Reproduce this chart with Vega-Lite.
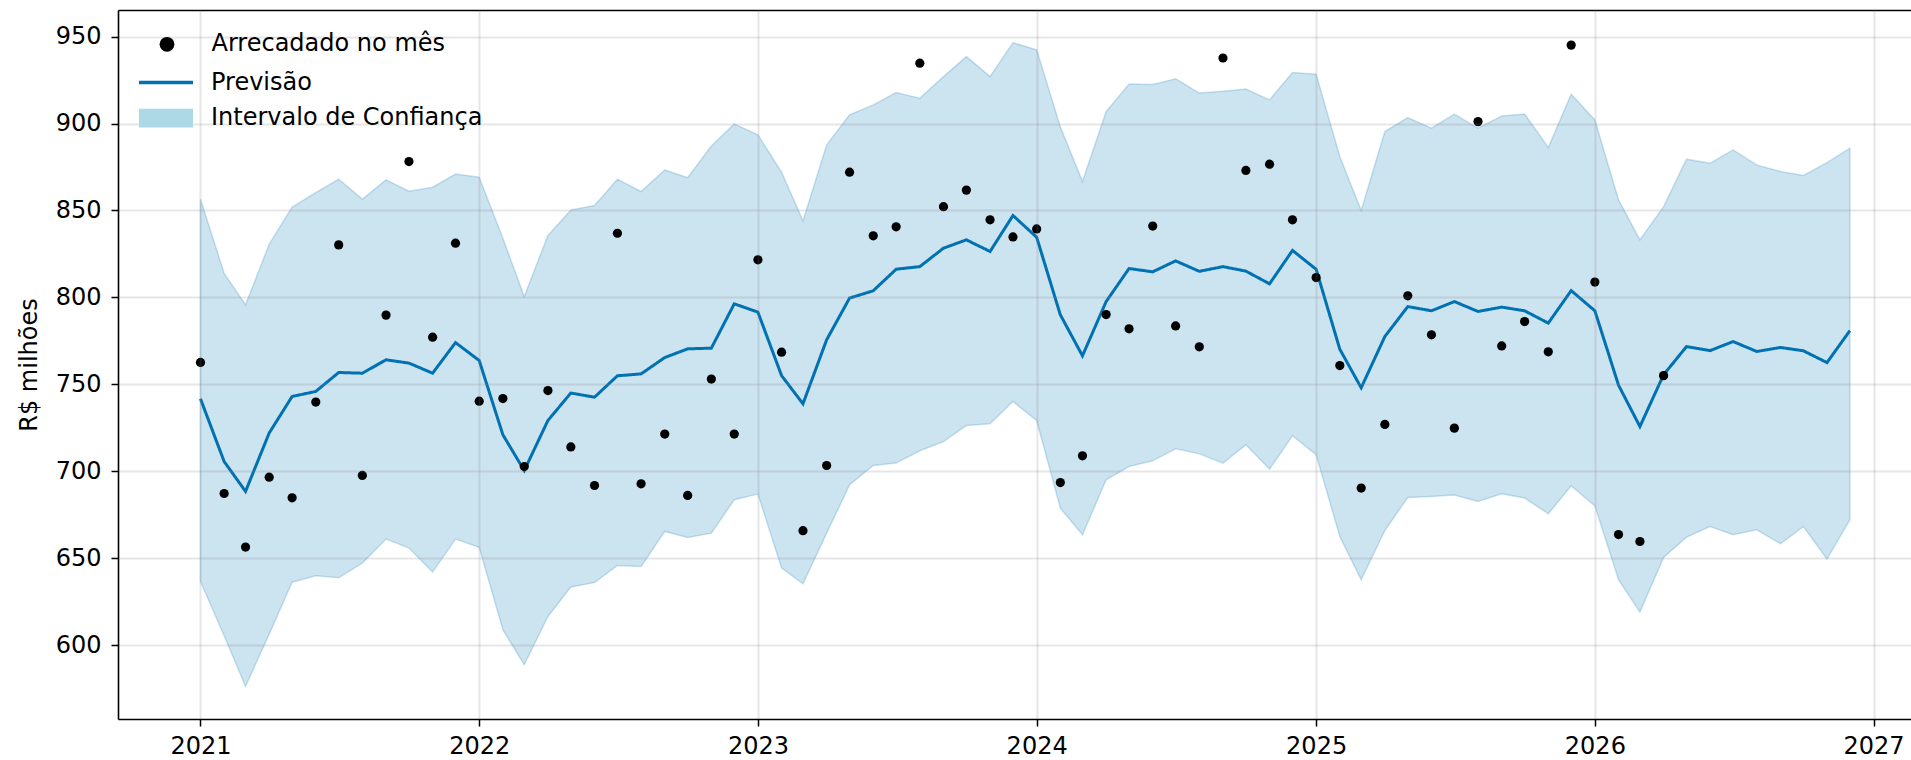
{
  "$schema": "https://vega.github.io/schema/vega-lite/v6.json",
  "autosize": "none",
  "width": 1793,
  "height": 709,
  "padding": {"left": 118, "top": 10, "right": 0, "bottom": 41},
  "background": "white",
  "config": {
    "view": {"stroke": null},
    "font": "DejaVu Sans",
    "axis": {
      "labelFont": "DejaVu Sans",
      "labelFontSize": 24,
      "labelColor": "#000000",
      "tickColor": "#000000",
      "tickWidth": 1.5,
      "tickSize": 7,
      "domainColor": "#000000",
      "domainWidth": 1.6,
      "gridColor": "#808080",
      "gridOpacity": 0.2,
      "gridWidth": 2,
      "titleFont": "DejaVu Sans",
      "titleFontSize": 24,
      "titleFontWeight": "normal",
      "titleColor": "#000000",
      "labelOverlap": false
    },
    "legend": {
      "labelFont": "DejaVu Sans",
      "labelFontSize": 24,
      "labelColor": "#000000",
      "labelLimit": 500,
      "padding": 0
    }
  },
  "data": {
    "values": [
      {"ds": "2021-01-01", "y": 762.6, "yhat": 741.7, "lo": 636.6, "hi": 856.5},
      {"ds": "2021-02-01", "y": 687.2, "yhat": 705.6, "lo": 605.4, "hi": 813.9},
      {"ds": "2021-03-01", "y": 656.4, "yhat": 688.4, "lo": 576.2, "hi": 795.7},
      {"ds": "2021-04-01", "y": 696.6, "yhat": 722.0, "lo": 606.3, "hi": 830.6},
      {"ds": "2021-05-01", "y": 684.7, "yhat": 743.0, "lo": 636.2, "hi": 851.9},
      {"ds": "2021-06-01", "y": 739.8, "yhat": 745.9, "lo": 639.9, "hi": 860.3},
      {"ds": "2021-07-01", "y": 830.2, "yhat": 756.8, "lo": 638.7, "hi": 868.0},
      {"ds": "2021-08-01", "y": 697.6, "yhat": 756.4, "lo": 647.2, "hi": 856.5},
      {"ds": "2021-09-01", "y": 789.8, "yhat": 764.1, "lo": 661.0, "hi": 867.6},
      {"ds": "2021-10-01", "y": 878.1, "yhat": 762.2, "lo": 655.8, "hi": 861.1},
      {"ds": "2021-11-01", "y": 777.1, "yhat": 756.4, "lo": 642.0, "hi": 863.4},
      {"ds": "2021-12-01", "y": 831.2, "yhat": 774.0, "lo": 661.0, "hi": 870.9},
      {"ds": "2022-01-01", "y": 740.3, "yhat": 763.7, "lo": 656.2, "hi": 869.1},
      {"ds": "2022-02-01", "y": 741.8, "yhat": 721.0, "lo": 608.8, "hi": 834.0},
      {"ds": "2022-03-01", "y": 702.7, "yhat": 700.4, "lo": 588.7, "hi": 800.5},
      {"ds": "2022-04-01", "y": 746.4, "yhat": 729.2, "lo": 616.5, "hi": 835.6},
      {"ds": "2022-05-01", "y": 714.0, "yhat": 745.0, "lo": 633.4, "hi": 850.3},
      {"ds": "2022-06-01", "y": 691.8, "yhat": 742.6, "lo": 636.0, "hi": 852.8},
      {"ds": "2022-07-01", "y": 836.9, "yhat": 754.9, "lo": 645.8, "hi": 868.0},
      {"ds": "2022-08-01", "y": 692.8, "yhat": 756.0, "lo": 645.2, "hi": 860.9},
      {"ds": "2022-09-01", "y": 721.4, "yhat": 765.4, "lo": 665.4, "hi": 873.3},
      {"ds": "2022-10-01", "y": 686.1, "yhat": 770.4, "lo": 661.9, "hi": 868.9},
      {"ds": "2022-11-01", "y": 753.0, "yhat": 770.8, "lo": 664.4, "hi": 887.1},
      {"ds": "2022-12-01", "y": 721.4, "yhat": 796.3, "lo": 683.6, "hi": 899.8},
      {"ds": "2023-01-01", "y": 821.6, "yhat": 791.5, "lo": 686.9, "hi": 893.5},
      {"ds": "2023-02-01", "y": 768.5, "yhat": 755.0, "lo": 644.3, "hi": 872.0},
      {"ds": "2023-03-01", "y": 665.8, "yhat": 738.8, "lo": 635.3, "hi": 844.0},
      {"ds": "2023-04-01", "y": 703.3, "yhat": 775.6, "lo": 664.4, "hi": 887.7},
      {"ds": "2023-05-01", "y": 872.0, "yhat": 799.6, "lo": 692.2, "hi": 905.0},
      {"ds": "2023-06-01", "y": 835.4, "yhat": 803.8, "lo": 703.3, "hi": 910.7},
      {"ds": "2023-07-01", "y": 840.6, "yhat": 816.2, "lo": 704.7, "hi": 917.8},
      {"ds": "2023-08-01", "y": 934.7, "yhat": 817.7, "lo": 711.8, "hi": 914.6},
      {"ds": "2023-09-01", "y": 852.2, "yhat": 828.3, "lo": 717.1, "hi": 927.0},
      {"ds": "2023-10-01", "y": 861.7, "yhat": 833.1, "lo": 726.3, "hi": 938.5},
      {"ds": "2023-11-01", "y": 844.6, "yhat": 826.4, "lo": 727.3, "hi": 927.0},
      {"ds": "2023-12-01", "y": 834.8, "yhat": 847.1, "lo": 740.1, "hi": 946.5},
      {"ds": "2024-01-01", "y": 839.4, "yhat": 834.6, "lo": 729.2, "hi": 942.4},
      {"ds": "2024-02-01", "y": 693.5, "yhat": 790.0, "lo": 678.8, "hi": 898.2},
      {"ds": "2024-03-01", "y": 708.9, "yhat": 766.4, "lo": 663.5, "hi": 866.6},
      {"ds": "2024-04-01", "y": 790.1, "yhat": 797.6, "lo": 695.1, "hi": 906.9},
      {"ds": "2024-05-01", "y": 781.9, "yhat": 816.6, "lo": 702.7, "hi": 922.8},
      {"ds": "2024-06-01", "y": 841.0, "yhat": 814.7, "lo": 706.0, "hi": 922.4},
      {"ds": "2024-07-01", "y": 783.6, "yhat": 821.0, "lo": 712.9, "hi": 925.7},
      {"ds": "2024-08-01", "y": 771.6, "yhat": 815.0, "lo": 710.0, "hi": 917.5},
      {"ds": "2024-09-01", "y": 937.7, "yhat": 817.7, "lo": 704.7, "hi": 918.6},
      {"ds": "2024-10-01", "y": 873.0, "yhat": 815.1, "lo": 715.2, "hi": 919.8},
      {"ds": "2024-11-01", "y": 876.6, "yhat": 807.8, "lo": 701.2, "hi": 913.6},
      {"ds": "2024-12-01", "y": 844.6, "yhat": 827.0, "lo": 720.4, "hi": 929.3},
      {"ds": "2025-01-01", "y": 811.4, "yhat": 816.2, "lo": 709.5, "hi": 928.4},
      {"ds": "2025-02-01", "y": 760.8, "yhat": 770.2, "lo": 662.5, "hi": 881.0},
      {"ds": "2025-03-01", "y": 690.3, "yhat": 748.0, "lo": 637.6, "hi": 850.0},
      {"ds": "2025-04-01", "y": 726.9, "yhat": 777.5, "lo": 665.9, "hi": 895.4},
      {"ds": "2025-05-01", "y": 800.9, "yhat": 794.7, "lo": 684.9, "hi": 903.4},
      {"ds": "2025-06-01", "y": 778.5, "yhat": 792.3, "lo": 685.5, "hi": 897.3},
      {"ds": "2025-07-01", "y": 724.8, "yhat": 797.6, "lo": 686.3, "hi": 905.4},
      {"ds": "2025-08-01", "y": 901.1, "yhat": 791.9, "lo": 682.6, "hi": 897.3},
      {"ds": "2025-09-01", "y": 772.1, "yhat": 794.4, "lo": 687.0, "hi": 904.4},
      {"ds": "2025-10-01", "y": 786.1, "yhat": 792.3, "lo": 684.6, "hi": 905.5},
      {"ds": "2025-11-01", "y": 768.7, "yhat": 785.2, "lo": 675.5, "hi": 886.2},
      {"ds": "2025-12-01", "y": 945.1, "yhat": 803.9, "lo": 691.6, "hi": 916.9},
      {"ds": "2026-01-01", "y": 808.8, "yhat": 792.3, "lo": 680.1, "hi": 902.1},
      {"ds": "2026-02-01", "y": 663.6, "yhat": 749.5, "lo": 637.6, "hi": 856.1},
      {"ds": "2026-03-01", "y": 659.6, "yhat": 725.7, "lo": 619.0, "hi": 833.1},
      {"ds": "2026-04-01", "y": 755.0, "yhat": 755.5, "lo": 650.4, "hi": 852.2},
      {"ds": "2026-05-01", "y": null, "yhat": 771.7, "lo": 662.1, "hi": 879.5},
      {"ds": "2026-06-01", "y": null, "yhat": 769.4, "lo": 668.2, "hi": 877.2},
      {"ds": "2026-07-01", "y": null, "yhat": 774.6, "lo": 663.5, "hi": 884.8},
      {"ds": "2026-08-01", "y": null, "yhat": 768.9, "lo": 666.3, "hi": 876.2},
      {"ds": "2026-09-01", "y": null, "yhat": 771.2, "lo": 658.3, "hi": 872.4},
      {"ds": "2026-10-01", "y": null, "yhat": 769.3, "lo": 668.2, "hi": 870.1},
      {"ds": "2026-11-01", "y": null, "yhat": 762.5, "lo": 649.5, "hi": 877.5},
      {"ds": "2026-12-01", "y": null, "yhat": 780.9, "lo": 672.1, "hi": 885.8}
    ]
  },
  "resolve": {"axis": {"x": "independent"}, "scale": {"shape": "independent"}, "legend": {"shape": "independent"}},
  "layer": [
    {
      "mark": {"type": "area", "fill": "#0072B2", "fillOpacity": 0.2, "stroke": "#0072B2", "strokeOpacity": 0.2, "strokeWidth": 1.5},
      "encoding": {
        "x": {
          "field": "ds", "type": "temporal", "title": null,
          "scale": {"type": "utc", "nice": false, "domain": [{"year": 2020, "month": 9, "date": 15, "utc": true}, {"year": 2027, "month": 2, "date": 19, "utc": true}]},
          "axis": {
            "orient": "bottom", "zindex": 1, "grid": true, "format": "%Y", "labelPadding": 8, "labelFlush": false,
            "values": [
              {"year": 2021, "month": 1, "date": 1, "utc": true},
              {"year": 2022, "month": 1, "date": 1, "utc": true},
              {"year": 2023, "month": 1, "date": 1, "utc": true},
              {"year": 2024, "month": 1, "date": 1, "utc": true},
              {"year": 2025, "month": 1, "date": 1, "utc": true},
              {"year": 2026, "month": 1, "date": 1, "utc": true},
              {"year": 2027, "month": 1, "date": 1, "utc": true}
            ]
          }
        },
        "y": {
          "field": "lo", "type": "quantitative", "title": "R$ milhões",
          "scale": {"domain": [557.5, 965.3], "nice": false, "zero": false},
          "axis": {"values": [600, 650, 700, 750, 800, 850, 900, 950], "zindex": 1, "grid": true, "labelPadding": 10, "titlePadding": 14, "labelFlush": false}
        },
        "y2": {"field": "hi"}
      }
    },
    {
      "mark": {"type": "line", "strokeWidth": 3, "color": "#0072B2"},
      "encoding": {
        "x": {
          "field": "ds", "type": "temporal", "title": null,
          "axis": {"orient": "top", "labels": false, "ticks": false, "grid": false, "domain": true, "title": null}
        },
        "y": {"field": "yhat", "type": "quantitative", "title": "R$ milhões"},
        "strokeDash": {
          "datum": "Previsão", "type": "nominal",
          "scale": {"range": [[1, 0]]},
          "legend": {"title": null, "orient": "none", "legendX": 19, "legendY": 43.5, "symbolType": "stroke", "symbolSize": 2916, "symbolStrokeWidth": 3.5, "symbolStrokeColor": "#0072B2", "labelOffset": 16, "zindex": 3}
        }
      }
    },
    {
      "transform": [{"filter": "datum.y != null"}],
      "mark": {"type": "point", "filled": true, "size": 85, "opacity": 1, "color": "#000000"},
      "encoding": {
        "x": {"field": "ds", "type": "temporal", "title": null, "axis": null},
        "y": {"field": "y", "type": "quantitative", "title": "R$ milhões"},
        "shape": {
          "datum": "Arrecadado no mês", "type": "nominal",
          "scale": {"range": ["circle"]},
          "legend": {"title": null, "orient": "none", "legendX": 37, "legendY": 22.3, "symbolType": "circle", "symbolSize": 220, "symbolStrokeWidth": 0, "symbolFillColor": "#000000", "labelOffset": 32.5, "zindex": 3}
        }
      }
    },
    {
      "mark": {"type": "point", "filled": true, "size": 0, "opacity": 1, "color": "#ADD8E6"},
      "encoding": {
        "x": {"field": "ds", "type": "temporal", "title": null, "axis": null},
        "y": {"field": "yhat", "type": "quantitative", "title": "R$ milhões"},
        "shape": {
          "datum": "Intervalo de Confiança", "type": "nominal",
          "scale": {"range": ["M-1,-0.35H1V0.35H-1Z"]},
          "legend": {"title": null, "orient": "none", "legendX": 21, "legendY": 81.1, "symbolSize": 2916, "symbolStrokeWidth": 0, "symbolFillColor": "#ADD8E6", "symbolOpacity": 1, "labelOffset": 18, "zindex": 3}
        }
      }
    }
  ]
}
